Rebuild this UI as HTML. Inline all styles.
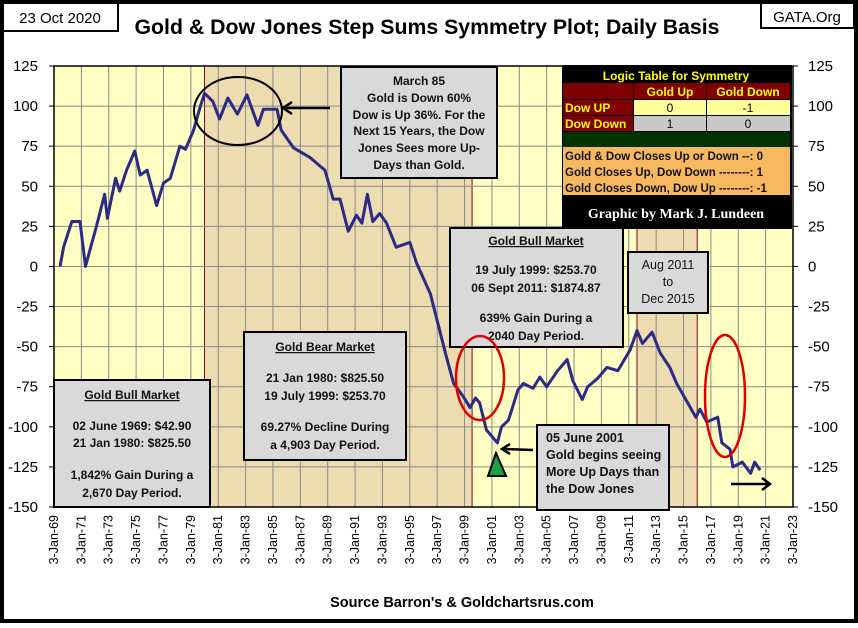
<!DOCTYPE html>
<html><head><meta charset="utf-8"><style>
body{margin:0;background:#fff}
svg text{font-family:"Liberation Sans",sans-serif}
</style></head><body>
<svg width="858" height="623" viewBox="0 0 858 623">
<rect x="2" y="2" width="854" height="619" fill="#fff" stroke="#000" stroke-width="4"/>
<rect x="3" y="3" width="115" height="28" fill="#fff" stroke="#000" stroke-width="2"/>
<text x="60" y="23" font-size="15" text-anchor="middle">23 Oct 2020</text>
<rect x="761" y="3" width="93" height="25" fill="#fff" stroke="#000" stroke-width="2"/>
<text x="807" y="22" font-size="15" text-anchor="middle">GATA.Org</text>
<text x="427" y="34" font-size="21" font-weight="bold" text-anchor="middle" textLength="585" lengthAdjust="spacingAndGlyphs">Gold &amp; Dow Jones Step Sums Symmetry Plot; Daily Basis</text>
<g id="plot"></g>
<g id="annot">
<rect x="341" y="67" width="156" height="111" fill="#d9d9d9" stroke="#000" stroke-width="2"/>
<g font-size="12" font-weight="bold" text-anchor="middle" fill="#111">
<text x="419" y="85">March 85</text><text x="419" y="102">Gold is Down 60%</text><text x="419" y="119">Dow is Up 36%.  For the</text><text x="419" y="135">Next 15 Years, the Dow</text><text x="419" y="152">Jones Sees more Up-</text><text x="419" y="169">Days than Gold.</text></g>
<ellipse cx="238" cy="111" rx="44" ry="34" fill="none" stroke="#000" stroke-width="2"/>
<line x1="330" y1="108" x2="286" y2="108" stroke="#000" stroke-width="2.5"/><path d="M292,102 L283,108 L292,114" fill="none" stroke="#000" stroke-width="2.5"/>
<g>
<rect x="562" y="65" width="230" height="164" fill="#000"/>
<text x="676" y="80" font-size="12" font-weight="bold" fill="#ffff00" text-anchor="middle">Logic Table for Symmetry</text>
<rect x="563" y="83" width="70" height="16" fill="#800000"/><rect x="634" y="83" width="72" height="16" fill="#800000"/><rect x="707" y="83" width="83" height="16" fill="#800000"/>
<text x="670" y="96" font-size="12" font-weight="bold" fill="#ffff00" text-anchor="middle">Gold Up</text><text x="748" y="96" font-size="12" font-weight="bold" fill="#ffff00" text-anchor="middle">Gold Down</text>
<rect x="563" y="100" width="70" height="15" fill="#800000"/><rect x="634" y="100" width="72" height="15" fill="#ffff99"/><rect x="707" y="100" width="83" height="15" fill="#ffff99"/>
<rect x="563" y="116" width="70" height="15" fill="#800000"/><rect x="634" y="116" width="72" height="15" fill="#c8c8c8"/><rect x="707" y="116" width="83" height="15" fill="#c8c8c8"/>
<text x="565" y="112" font-size="12" font-weight="bold" fill="#ffff00">Dow UP</text><text x="565" y="128" font-size="12" font-weight="bold" fill="#ffff00">Dow Down</text>
<text x="670" y="112" font-size="12" text-anchor="middle">0</text><text x="748" y="112" font-size="12" text-anchor="middle">-1</text>
<text x="670" y="128" font-size="12" text-anchor="middle">1</text><text x="748" y="128" font-size="12" text-anchor="middle">0</text>
<rect x="563" y="132" width="227" height="15" fill="#003300"/>
<rect x="563" y="147" width="227" height="48" fill="#f8b860"/>
<g font-size="11.5" font-weight="bold" fill="#111"><text x="565" y="160">Gold &amp; Dow Closes Up or Down --:  0</text><text x="565" y="176">Gold Closes Up, Dow Down --------:  1</text><text x="565" y="192">Gold Closes Down, Dow Up --------: -1</text></g>
<text x="676" y="218" font-size="14" font-weight="bold" fill="#fff" text-anchor="middle" style="font-family:'Liberation Serif',serif">Graphic by Mark J. Lundeen</text>
</g>
<rect x="450" y="228" width="173" height="119" fill="#d9d9d9" stroke="#000" stroke-width="2"/>
<g font-size="12" font-weight="bold" text-anchor="middle" fill="#111">
<text x="536" y="245" text-decoration="underline">Gold Bull Market</text><text x="536" y="274">19 July 1999:   $253.70</text><text x="536" y="292">06 Sept 2011:  $1874.87</text><text x="536" y="322">639%  Gain During a</text><text x="536" y="340">2040  Day Period.</text></g>
<rect x="628" y="252" width="80" height="61" fill="#d9d9d9" stroke="#000" stroke-width="2"/>
<g font-size="12.5" text-anchor="middle" fill="#111"><text x="668" y="269">Aug 2011</text><text x="668" y="286">to</text><text x="668" y="303">Dec 2015</text></g>
<rect x="244" y="332" width="162" height="128" fill="#d9d9d9" stroke="#000" stroke-width="2"/>
<g font-size="12" font-weight="bold" text-anchor="middle" fill="#111">
<text x="325" y="351" text-decoration="underline">Gold Bear Market</text><text x="325" y="382">21 Jan 1980:   $825.50</text><text x="325" y="400">19 July 1999:  $253.70</text><text x="325" y="431">69.27%  Decline During</text><text x="325" y="449">a 4,903  Day  Period.</text></g>
<rect x="54" y="380" width="156" height="127" fill="#d9d9d9" stroke="#000" stroke-width="2"/>
<g font-size="12" font-weight="bold" text-anchor="middle" fill="#111">
<text x="132" y="399" text-decoration="underline">Gold Bull Market</text><text x="132" y="430">02 June 1969:  $42.90</text><text x="132" y="447">21 Jan 1980:   $825.50</text><text x="132" y="479">1,842%  Gain During a</text><text x="132" y="497">2,670  Day Period.</text></g>
<rect x="537" y="425" width="132" height="85" fill="#d9d9d9" stroke="#000" stroke-width="2"/>
<g font-size="12.5" font-weight="bold" fill="#111"><text x="546" y="442">05 June 2001</text><text x="546" y="459">Gold  begins seeing</text><text x="546" y="476">More Up Days than</text><text x="546" y="493">the Dow Jones</text></g>
<ellipse cx="480" cy="378" rx="24" ry="42" fill="none" stroke="#e00000" stroke-width="2.5"/>
<ellipse cx="725" cy="396" rx="20" ry="61" fill="none" stroke="#e00000" stroke-width="2.5"/>
<path d="M496,453 L488,476 L506,476 Z" fill="#20a040" stroke="#000" stroke-width="2"/>
<line x1="533" y1="450" x2="504" y2="449" stroke="#000" stroke-width="2.5"/><path d="M510,444 L502,449 L510,454" fill="none" stroke="#000" stroke-width="2.5"/>
<line x1="731" y1="484" x2="768" y2="484" stroke="#000" stroke-width="2.5"/><path d="M762,478 L770,484 L762,490" fill="none" stroke="#000" stroke-width="2.5"/>
</g>
<text x="462" y="607" font-size="14.5" font-weight="bold" text-anchor="middle">Source Barron's &amp; Goldchartsrus.com</text>
</svg>
<script>
const years=[1969.44,1969.7,1970.3,1970.9,1971.3,1972.1,1972.7,1972.9,1973.5,1973.8,1974.3,1974.9,1975.3,1975.8,1976.5,1977,1977.5,1978.2,1978.6,1979.2,1979.7,1980,1980.6,1981.1,1981.7,1982.4,1983.1,1983.9,1984.3,1985.3,1985.6,1986.5,1987.7,1988.8,1989.4,1989.9,1990.5,1991.1,1991.5,1991.9,1992.3,1992.8,1993.3,1994,1995,1995.5,1996.5,1997.6,1998.2,1998.9,1999.4,1999.8,2000.1,2000.6,2001.4,2001.7,2002.2,2002.5,2002.9,2003.3,2004,2004.5,2005,2005.8,2006.5,2006.9,2007.6,2008,2008.7,2009.4,2010.2,2011.1,2011.6,2012,2012.7,2013.3,2014,2014.5,2015.3,2015.9,2016.2,2016.7,2017.5,2017.8,2018.4,2018.6,2019.3,2019.9,2020.2,2020.6];
const values=[0,12,28,28,0,25,45,30,55,47,60,72,57,60,38,52,55,75,73,85,100,108,103,92,105,95,107,88,98,98,85,74,68,60,42,42,22,32,27,45,28,33,27,12,15,2,-17,-54,-73,-81,-88,-82,-85,-102,-110,-100,-96,-88,-77,-73,-76,-69,-75,-65,-58,-71,-83,-75,-70,-63,-65,-52,-40,-48,-41,-54,-63,-73,-85,-94,-89,-97,-94,-110,-114,-125,-122,-129,-122,-127];
const yTicks=[125,100,75,50,25,0,-25,-50,-75,-100,-125,-150];
const xTickYears=[1969,1971,1973,1975,1977,1979,1981,1983,1985,1987,1989,1991,1993,1995,1997,1999,2001,2003,2005,2007,2009,2011,2013,2015,2017,2019,2021,2023];
const shadedPeriods=[[1980,1999.55],[2011.6,2016.0]];
const L=54,R=793,T=66,B=507;
const X=y=>L+(y-1969)/(2023-1969)*(R-L);
const Y=v=>T+(125-v)/275*(B-T);
const NS='http://www.w3.org/2000/svg';
const g=document.getElementById('plot');
function mk(t,a){const e=document.createElementNS(NS,t);for(const k in a)e.setAttribute(k,a[k]);g.appendChild(e);return e;}
const bg=mk('rect',{x:L,y:T,width:R-L,height:B-T,fill:'#ffffc4'});


shadedPeriods.forEach(p=>{const r=mk('rect',{x:X(p[0]),y:T,width:X(p[1])-X(p[0]),height:B-T,fill:'#ecdcb0',stroke:'#800020','stroke-width':1});

});
xTickYears.forEach(yr=>{const x=X(yr);
const l=mk('line',{x1:x,y1:T,x2:x,y2:B,stroke:'#8a8a8a','stroke-width':1});


const t=mk('text',{x:0,y:0,'font-size':12.5,'text-anchor':'end',transform:`translate(${x+4},${B+8}) rotate(-90)`});
t.textContent='3-Jan-'+String(yr%100).padStart(2,'0');

});
yTicks.forEach(v=>{const y=Y(v);
const l=mk('line',{x1:L,y1:y,x2:R,y2:y,stroke:'#8a8a8a','stroke-width':1});


mk('line',{x1:L-5,y1:y,x2:L,y2:y,stroke:'#000'});mk('line',{x1:R,y1:y,x2:R+5,y2:y,stroke:'#000'});
const a=mk('text',{x:38,y:y+5,'font-size':15,'text-anchor':'end'});a.textContent=v;


const b=mk('text',{x:808,y:y+5,'font-size':15}); b.textContent=v;

});
mk('rect',{x:L,y:T,width:R-L,height:B-T,fill:'none',stroke:'#000','stroke-width':1.5});
const line=mk('polyline',{points:years.map((y,i)=>X(y)+','+Y(values[i])).join(' '),fill:'none',stroke:'#2b2b85','stroke-width':3,'stroke-linejoin':'round'});


</script>
</body></html>
